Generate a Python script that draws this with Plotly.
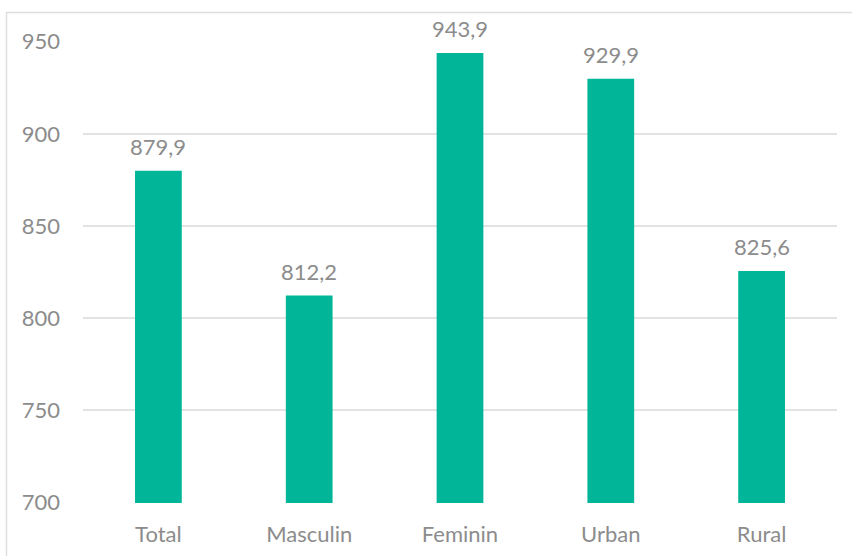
import plotly.graph_objects as go

categories = ["Total", "Masculin", "Feminin", "Urban", "Rural"]
values = [879.9, 812.2, 943.9, 929.9, 825.6]
y_ticks = [700, 750, 800, 850, 900, 950]

labels = [f"{v:.1f}".replace(".", ",") for v in values]

FONT = "Lato, 'Open Sans', sans-serif"
TXT = "#8c8c8c"

fig = go.Figure(go.Bar(
    x=categories, y=values,
    marker=dict(color="#00B598", line=dict(width=0)),
    width=0.31, hoverinfo="skip",
))

for c, v, lab in zip(categories, values, labels):
    fig.add_annotation(x=c, y=v, text=lab, showarrow=False, yanchor="bottom",
                       yshift=9, font=dict(family=FONT, size=22, color=TXT))

fig.update_layout(
    width=852, height=556,
    margin=dict(l=83, r=15, t=41, b=53),
    paper_bgcolor="white", plot_bgcolor="white",
    showlegend=False,
    font=dict(family=FONT, size=20, color=TXT),
    xaxis=dict(showgrid=False, showline=False, ticks="", tickfont=dict(size=22, color=TXT),
               ticklabelstandoff=16, automargin=False),
    yaxis=dict(range=[699.6, 950.4], tickvals=y_ticks, ticktext=[str(t) for t in y_ticks],
               showgrid=True, gridcolor="#e3e3e3", gridwidth=1.5, zeroline=False,
               showline=False, ticks="", tickfont=dict(size=22, color=TXT),
               ticklabelstandoff=22, automargin=False),
    shapes=[dict(type="rect", xref="paper", yref="paper",
                 x0=(6.5 - 83) / 754, x1=1.05, y0=-0.2, y1=1 + (41 - 12.5) / 462,
                 line=dict(color="#dedede", width=1.5), fillcolor="rgba(0,0,0,0)", layer="above")],
)

fig.write_html("out.html", config={"displayModeBar": False},
               post_script="document.body.style.margin='0';")
